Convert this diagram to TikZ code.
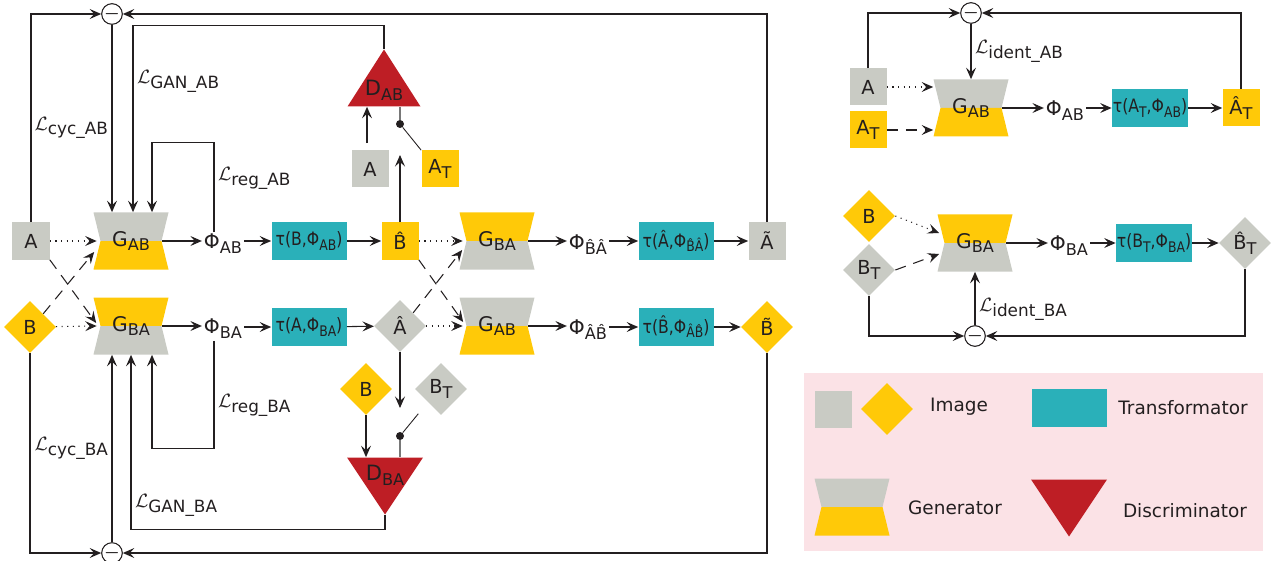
\documentclass[tikz,border=0pt]{standalone}
\usepackage{amsmath}
\usepackage{fontspec}
\setmainfont{DejaVu Sans}
\newfontfamily\condf[FakeStretch=0.85]{DejaVu Sans}
\usepackage{xcolor}
\usepackage{tikz}
\usetikzlibrary{arrows.meta,positioning,calc,shapes.geometric}

\definecolor{imgray}{RGB}{201,203,196}
\definecolor{imyel}{RGB}{255,201,8}
\definecolor{trteal}{RGB}{42,176,185}
\definecolor{dsred}{RGB}{190,30,37}
\definecolor{lgpink}{RGB}{251,226,230}
\definecolor{lncol}{RGB}{35,31,32}
\definecolor{stcol}{RGB}{120,120,120}

\newcommand{\ixsz}{9.2}
\newcommand{\ix}[1]{\raisebox{-0.45ex}{\fontsize{\ixsz}{11}\selectfont #1}}
\newcommand{\loss}[1]{$\mathcal{L}$\ix{#1}}
\newcommand{\mns}{$\boldsymbol{-}$}

\tikzset{
  every node/.append style={text=lncol},
  img/.style={rectangle, fill=#1, minimum size=7.4mm, inner sep=0,
              font=\fontsize{11}{13}\selectfont},
  imgd/.style={diamond, fill=#1, minimum width=10.4mm, minimum height=10.4mm,
               inner sep=0, font=\fontsize{11}{13}\selectfont},
  trf/.style={rectangle, fill=trteal, minimum width=15mm, minimum height=7.5mm,
              inner sep=0.5pt, font=\condf\fontsize{10.5}{12}\selectfont\def\ixsz{8.3}},
  gen/.style 2 args={rectangle, minimum width=15mm, minimum height=11.4mm, inner sep=0,
              font=\fontsize{11.5}{13}\selectfont,
              path picture={
                \fill[#1] (path picture bounding box.north west) -- (path picture bounding box.north east)
                  -- ([xshift=-1.4mm]path picture bounding box.east) -- ([xshift=1.4mm]path picture bounding box.west) -- cycle;
                \fill[#2] ([xshift=1.4mm]path picture bounding box.west) -- ([xshift=-1.4mm]path picture bounding box.east)
                  -- (path picture bounding box.south east) -- (path picture bounding box.south west) -- cycle;}},
  discup/.style={rectangle, minimum width=14.6mm, minimum height=11.4mm, inner sep=0,
              text height=6.9mm, text depth=0pt, font=\fontsize{12}{14}\selectfont,
              path picture={\fill[dsred] (path picture bounding box.south west) -- (path picture bounding box.north)
                  -- (path picture bounding box.south east) -- cycle;}},
  discdn/.style={rectangle, minimum width=15.2mm, minimum height=11.4mm, inner sep=0,
              text height=0pt, text depth=2.3mm, font=\fontsize{12}{14}\selectfont,
              path picture={\fill[dsred] (path picture bounding box.north west) -- (path picture bounding box.north east)
                  -- (path picture bounding box.south) -- cycle;}},
  phi/.style={inner sep=1pt, font=\fontsize{11.5}{13}\selectfont},
  mn/.style={circle, draw=lncol, line width=0.6pt, fill=white, minimum size=3.8mm, inner sep=0},
  swdot/.style={circle, fill=lncol, minimum size=1.6mm, inner sep=0},
  ln/.style={draw=lncol, line width=0.6pt},
  fl/.style={ln, -{Stealth[length=2.3mm,width=2mm,inset=0.9mm]}},
  dotfl/.style={fl, dash pattern=on 0.6pt off 2.6pt},
  dashfl/.style={fl, dash pattern=on 2.2mm off 1.6mm},
  lever/.style={ln, line width=0.5pt},
  stem/.style={draw=stcol, line width=0.9pt},
  lbl/.style={font=\fontsize{11}{13}\selectfont\def\ixsz{9.6}, inner sep=2pt},
  lgtxt/.style={font=\fontsize{10.5}{12}\selectfont},
}

\begin{document}
\begin{tikzpicture}[x=0.2mm,y=-0.2mm]
\useasboundingbox (0,0) rectangle (1272,561);

% cycle A -> B -> A (upper row)
\node[mn] (mtop) at (112,14) {\mns};
\node[img=imgray] (a1) at (31,241) {A};
\node[gen={imgray}{imyel}] (gab1) at (131,241) {G\ix{AB}};
\node[phi] (phi1) at (223,244) {Φ\ix{AB}};
\node[trf] (tau1) at (309,241) {τ(B,Φ\ix{AB})};
\node[img=imyel] (bh1) at (400,241) {\^B};
\node[img=imgray] (a2) at (370,169) {A};
\node[img=imyel] (at1) at (440,169) {A\ix{T}};
\node[discup] (dab) at (384,78) {D\ix{AB}};
\node[swdot] (sw1) at (400,124) {};
\node[gen={imyel}{imgray}] (gba2) at (497,241) {G\ix{BA}};
\node[phi] (phi2) at (588,245) {Φ\ix{\^B\^A}};
\node[trf] (tau2) at (676,241) {τ(\^A,Φ\ix{\^B\^A})};
\node[img=imgray] (atil) at (767,241) {\~A};

% cycle B -> A -> B (lower row)
\node[mn] (mbot) at (112,553) {\mns};
\node[imgd=imyel] (b1) at (30,327) {B};
\node[gen={imyel}{imgray}] (gba1) at (131,326) {G\ix{BA}};
\node[phi] (phi3) at (223,329) {Φ\ix{BA}};
\node[trf] (tau3) at (309,327) {τ(A,Φ\ix{BA})};
\node[imgd=imgray] (ah1) at (400,326) {\^A};
\node[gen={imgray}{imyel}] (gab2) at (497,326) {G\ix{AB}};
\node[phi] (phi4) at (588,330) {Φ\ix{\^A\^B}};
\node[trf] (tau4) at (676,327) {τ(\^B,Φ\ix{\^A\^B})};
\node[imgd=imyel] (btil) at (767,327) {\~B};
\node[imgd=imyel] (b2) at (366,389) {B};
\node[imgd=imgray] (bt1) at (441,389) {B\ix{T}};
\node[swdot] (sw2) at (400,436) {};
\node[discdn] (dba) at (385,486) {D\ix{BA}};

% upper row connectors
\draw[fl] (a1.north) |- (mtop);
\draw[fl] (atil.north) |- (mtop);
\draw[fl] (mtop) -- node[lbl, left, pos=0.55]{\loss{cyc\_AB}} (mtop |- gab1.north);
\draw[fl] (dab.north) -- ++(0,-24) -| node[lbl, right, pos=0.65]{\loss{GAN\_AB}} ([xshift=0.4mm]gab1.north);
\draw[fl] ([xshift=-1.8mm]phi1.north) -- node[lbl, right, pos=0.6]{\loss{reg\_AB}} ++(0,-90) -| ([xshift=4.2mm]gab1.north);
\draw[dotfl] (a1) -- ([xshift=0.7mm]gab1.west);
\draw[fl] ([xshift=-1.3mm]gab1.east) -- (gab1.east -| phi1.west);
\draw[fl] (phi1.east |- tau1) -- (tau1);
\draw[fl] (tau1) -- (bh1);
\draw[fl] (bh1) -- ([yshift=-6.2mm]sw1.center);
\draw[stem] (sw1) -- (sw1 |- dab.south);
\draw[lever] (sw1) -- (at1.north west);
\draw[fl, shorten <=1.4mm] ([xshift=-0.6mm]a2.north) -- ([xshift=-0.6mm]a2.north |- dab.south);
\draw[dotfl] (bh1) -- ([xshift=0.7mm]gba2.west);
\draw[fl] ([xshift=-1.3mm]gba2.east) -- (gba2.east -| phi2.west);
\draw[fl] (phi2.east |- tau2) -- (tau2);
\draw[fl] (tau2) -- (atil);

% lower row connectors
\draw[dotfl] (b1) -- ([xshift=0.7mm]gba1.west);
\draw[dashfl] (a1.south east) -- ([xshift=0.6mm,yshift=0.6mm]gba1.west);
\draw[dashfl] (b1.north east) -- ([xshift=0.2mm,yshift=-2.2mm]gab1.west);
\draw[fl] ([xshift=-1.3mm]gba1.east) -- (gba1.east -| phi3.west);
\draw[fl] (phi3.east |- tau3) -- (tau3);
\draw[fl] (tau3) -- (ah1);
\draw[dotfl] (ah1) -- ([xshift=0.7mm]gab2.west);
\draw[dashfl] (bh1.south east) -- ([xshift=0.8mm,yshift=0.8mm]gab2.west);
\draw[dashfl] (ah1.north east) -- ([xshift=0.6mm,yshift=-1.8mm]gba2.west);
\draw[fl] ([xshift=-1.3mm]gab2.east) -- (gab2.east -| phi4.west);
\draw[fl] (phi4.east |- tau4) -- (tau4);
\draw[fl] (tau4) -- (btil);
\draw[fl] (ah1) -- ([yshift=5.6mm]sw2.center);
\draw[stem] (sw2) -- (sw2 |- dba.north);
\draw[lever, shorten >=3mm] (sw2) -- (bt1.south west);
\draw[fl] (b2) -- (b2 |- dba.north);
\draw[fl] (dba.south) -- ++(0,15) -| node[lbl, right, pos=0.57]{\loss{GAN\_BA}} (gba1.south);
\draw[fl] ([xshift=-1.8mm]phi3.south) -- node[lbl, right, pos=0.6]{\loss{reg\_BA}} ++(0,108) -| ([xshift=4.2mm]gba1.south);
\draw[fl] (mbot) -- node[lbl, left, pos=0.5]{\loss{cyc\_BA}} (mbot |- gba1.south);
\draw[fl] (b1.south) |- (mbot);
\draw[fl] (btil.south) |- (mbot);

% identity A
\node[mn] (mid1) at (971,13) {\mns};
\node[img=imgray] (a3) at (868,87) {A};
\node[img=imyel] (at3) at (868,130) {A\ix{T}};
\node[gen={imgray}{imyel}] (gab3) at (971,108) {G\ix{AB}};
\node[phi] (phi5) at (1065,111) {Φ\ix{AB}};
\node[trf] (tau5) at (1150,108) {τ(A\ix{T},Φ\ix{AB})};
\node[img=imyel] (ath) at (1241,108) {\^A\ix{T}};
\draw[fl] (a3.north) |- (mid1);
\draw[fl] (ath.north) |- (mid1);
\draw[fl] (mid1) -- node[lbl, right, pos=0.5]{\loss{ident\_AB}} (mid1 |- gab3.north);
\draw[dotfl] (a3) -- (a3 -| gab3.west);
\draw[dashfl] (at3) -- (at3 -| gab3.west);
\draw[fl] ([xshift=-1.3mm]gab3.east) -- (gab3.east -| phi5.west);
\draw[fl] (phi5.east |- tau5) -- (tau5);
\draw[fl] (tau5) -- (ath);

% identity B
\node[mn] (mid2) at (975,336) {\mns};
\node[imgd=imyel] (b3) at (869,216) {B};
\node[imgd=imgray] (bt3) at (869,270) {B\ix{T}};
\node[gen={imyel}{imgray}] (gba3) at (975,243) {G\ix{BA}};
\node[phi] (phi6) at (1069,246) {Φ\ix{BA}};
\node[trf] (tau6) at (1154,243) {τ(B\ix{T},Φ\ix{BA})};
\node[imgd=imgray] (bth) at (1245,243) {\^B\ix{T}};
\draw[dotfl] (b3.east) -- ([xshift=0.4mm,yshift=2mm]gba3.west);
\draw[dashfl] (bt3.east) -- ([xshift=0.4mm,yshift=-2.2mm]gba3.west);
\draw[fl] ([xshift=-1.3mm]gba3.east) -- (gba3.east -| phi6.west);
\draw[fl] (phi6.east |- tau6) -- (tau6);
\draw[fl] (tau6) -- (bth);
\draw[fl] (bt3.south) |- (mid2);
\draw[fl] (bth.south) |- (mid2);
\draw[fl] (mid2) -- node[lbl, right, pos=0.3]{\loss{ident\_BA}} (mid2 |- gba3.south);

% legend
\node[fill=lgpink, minimum width=91.8mm, minimum height=35.6mm, inner sep=0] (lgbg) at (1033.5,462) {};
\node[img=imgray] (lgsq) at (833,409) {};
\node[imgd=imyel] (lgdia) at (887,409) {};
\node[lgtxt] (lgimg) at (959,407) {Image};
\node[trf] (lgtr) at (1069,408) {};
\node[lgtxt] (lgtrt) at (1183,408) {Transformator};
\node[gen={imgray}{imyel}] (lggen) at (852,507) {};
\node[lgtxt] (lggent) at (955,508) {Generator};
\node[discdn] (lgdis) at (1069,508) {};
\node[lgtxt] (lgdist) at (1185,511) {Discriminator};
\end{tikzpicture}
\end{document}
